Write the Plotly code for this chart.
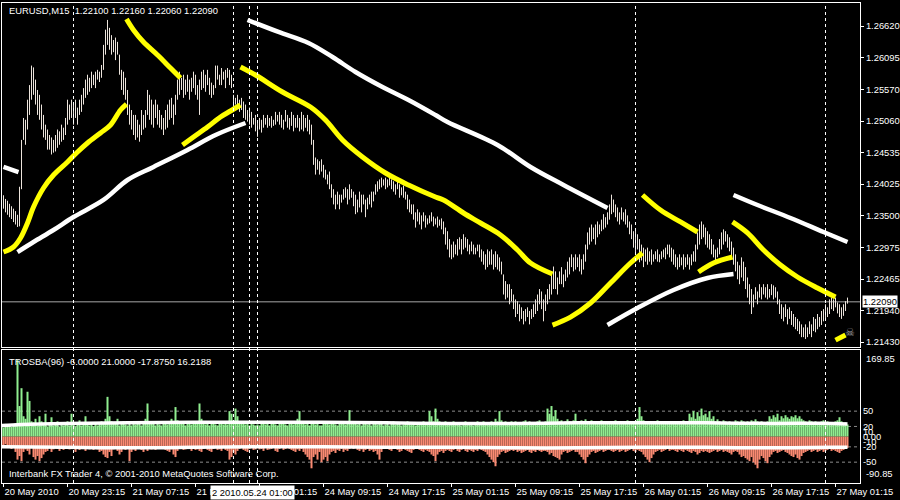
import plotly.graph_objects as go

# ---------------- data (prices in 1e-4 units, i.e. 12385 -> 1.2385) ----------------
HIGH = [12388,12384,12378,12375,12370,12366,12362,12358,12352,12398,
        12475,12511,12508,12541,12565,12597,12594,12574,12557,12549,
        12533,12516,12500,12492,12483,12479,12475,12483,12492,12489,
        12500,12495,12511,12541,12533,12541,12533,12541,12528,12541,
        12549,12560,12574,12582,12577,12587,12582,12587,12590,12587,
        12598,12631,12656,12672,12659,12647,12639,12643,12636,12615,
        12590,12587,12577,12557,12533,12524,12516,12516,12508,12500,
        12524,12516,12524,12557,12549,12541,12533,12541,12533,12524,
        12516,12511,12524,12533,12541,12544,12533,12549,12574,12587,
        12577,12582,12574,12582,12574,12577,12587,12582,12565,12574,
        12587,12590,12582,12590,12577,12569,12565,12597,12597,12582,
        12593,12587,12590,12593,12590,12582,12549,12544,12549,12541,
        12544,12538,12533,12524,12528,12521,12511,12516,12505,12511,
        12508,12516,12511,12516,12511,12514,12508,12521,12516,12521,
        12516,12508,12524,12516,12511,12521,12516,12511,12516,12511,
        12521,12516,12511,12516,12508,12500,12475,12446,12443,12440,
        12443,12434,12426,12418,12423,12402,12394,12385,12390,12385,
        12385,12394,12397,12394,12402,12394,12390,12385,12377,12390,
        12385,12385,12377,12380,12385,12390,12390,12402,12407,12410,
        12413,12410,12413,12410,12413,12410,12407,12402,12407,12402,
        12397,12400,12390,12385,12377,12369,12369,12356,12361,12356,
        12351,12356,12351,12346,12351,12356,12349,12346,12349,12344,
        12346,12341,12331,12325,12312,12303,12308,12303,12312,12315,
        12312,12320,12315,12312,12303,12308,12303,12298,12303,12303,
        12295,12292,12287,12295,12292,12295,12287,12292,12287,12282,
        12275,12254,12243,12238,12238,12230,12221,12213,12210,12205,
        12200,12194,12197,12200,12194,12197,12205,12213,12221,12230,
        12226,12213,12221,12230,12238,12254,12267,12259,12249,12259,
        12266,12254,12262,12275,12282,12287,12282,12287,12282,12287,
        12279,12287,12303,12323,12331,12336,12331,12336,12341,12336,
        12344,12353,12348,12356,12369,12385,12377,12369,12364,12356,
        12364,12356,12361,12351,12341,12336,12325,12328,12320,12312,
        12303,12298,12295,12298,12292,12295,12287,12292,12295,12287,
        12292,12295,12298,12303,12303,12298,12295,12287,12282,12287,
        12282,12287,12282,12287,12282,12287,12292,12303,12323,12336,
        12341,12336,12331,12325,12320,12312,12303,12295,12298,12312,
        12323,12328,12325,12320,12315,12308,12298,12287,12275,12269,
        12282,12275,12266,12249,12238,12230,12221,12233,12226,12238,
        12233,12238,12233,12238,12230,12238,12236,12233,12226,12213,
        12205,12200,12205,12197,12200,12194,12189,12184,12181,12177,
        12172,12167,12172,12167,12177,12172,12184,12181,12189,12184,
        12194,12197,12205,12200,12213,12216,12213,12216,12208,12205,
        12200,12205,12210,12216]

LOW = [12360,12362,12356,12352,12348,12345,12340,12336,12332,12333,
       12394,12475,12467,12492,12516,12541,12549,12533,12516,12508,
       12492,12479,12475,12459,12459,12451,12454,12456,12462,12467,
       12472,12475,12483,12500,12508,12511,12500,12511,12500,12516,
       12521,12533,12544,12549,12554,12560,12565,12560,12574,12570,
       12577,12590,12615,12631,12623,12615,12619,12606,12615,12582,
       12557,12549,12541,12516,12500,12492,12483,12475,12479,12472,
       12483,12492,12495,12516,12508,12500,12495,12511,12500,12495,
       12492,12483,12492,12495,12508,12511,12500,12516,12541,12549,
       12557,12544,12549,12554,12541,12554,12560,12549,12541,12516,
       12557,12560,12554,12565,12549,12544,12549,12560,12574,12565,
       12565,12574,12560,12577,12565,12560,12524,12533,12528,12521,
       12524,12511,12508,12505,12500,12495,12500,12489,12480,12492,
       12487,12495,12500,12495,12498,12495,12498,12500,12505,12500,
       12495,12492,12505,12495,12492,12498,12489,12495,12495,12489,
       12492,12489,12495,12489,12484,12467,12434,12418,12426,12418,
       12423,12413,12410,12402,12394,12380,12369,12361,12369,12361,
       12372,12377,12380,12369,12377,12380,12366,12353,12356,12364,
       12356,12369,12348,12361,12369,12364,12374,12385,12390,12394,
       12397,12400,12394,12397,12400,12394,12390,12385,12394,12380,
       12384,12380,12377,12361,12356,12353,12344,12331,12341,12336,
       12328,12341,12331,12336,12338,12341,12333,12336,12331,12334,
       12328,12320,12303,12295,12282,12279,12282,12287,12285,12295,
       12287,12295,12298,12292,12287,12292,12287,12287,12292,12282,
       12275,12270,12262,12266,12270,12270,12262,12266,12262,12259,
       12254,12221,12213,12216,12205,12210,12197,12184,12189,12177,
       12181,12172,12177,12184,12172,12181,12184,12189,12194,12205,
       12197,12177,12194,12205,12213,12221,12230,12230,12221,12238,
       12238,12233,12243,12249,12254,12266,12259,12262,12266,12259,
       12254,12262,12275,12295,12303,12308,12312,12303,12315,12320,
       12325,12328,12331,12336,12344,12353,12356,12348,12341,12336,
       12344,12341,12336,12331,12320,12312,12298,12287,12295,12274,
       12277,12266,12275,12270,12275,12270,12275,12279,12275,12274,
       12279,12282,12279,12287,12282,12275,12270,12266,12262,12266,
       12269,12262,12266,12270,12262,12269,12275,12275,12295,12303,
       12312,12315,12303,12298,12295,12287,12282,12275,12282,12287,
       12295,12303,12308,12298,12292,12282,12270,12259,12246,12238,
       12249,12243,12230,12216,12205,12189,12200,12213,12205,12216,
       12213,12221,12216,12213,12216,12220,12213,12216,12205,12189,
       12181,12177,12184,12172,12181,12171,12168,12164,12161,12156,
       12151,12151,12148,12151,12156,12151,12161,12159,12164,12168,
       12171,12177,12181,12184,12189,12197,12194,12200,12190,12184,
       12181,12186,12194,12206]

BUY = [22,18,25,20,24,19,22,26,150,60,95,40,35,88,70,30,
       28,35,22,40,30,25,45,20,24,38,22,26,30,20,24,22,
       24,30,22,45,28,20,25,32,22,26,40,24,22,28,20,25,
       22,28,30,25,35,78,40,30,25,28,35,22,26,30,24,22,
       25,22,30,24,28,26,22,30,35,65,28,25,30,22,26,24,
       22,26,30,24,28,35,30,58,32,25,30,28,22,26,30,24,
       26,30,28,65,35,28,24,30,22,26,28,24,22,26,30,24,
       28,24,50,45,30,55,40,28,26,30,24,28,22,26,24,22,
       24,22,28,30,24,26,22,30,28,24,22,26,30,28,24,22,
       26,28,24,30,35,50,30,28,24,26,22,30,28,24,26,22,
       22,26,30,28,24,26,30,24,22,28,30,26,24,28,52,30,
       26,30,24,28,22,26,30,24,28,22,26,30,24,28,26,22,
       24,28,22,26,30,24,28,26,22,24,28,30,26,24,28,22,
       26,24,28,30,24,26,50,40,30,55,35,30,28,26,30,24,
       24,28,30,26,24,28,22,26,30,28,24,26,22,28,30,24,
       26,30,28,24,26,30,28,35,30,50,32,28,30,26,28,30,
       28,30,26,24,28,30,32,28,30,26,28,24,30,32,28,26,
       30,55,45,60,40,52,35,30,32,28,30,34,30,28,32,45,
       30,28,32,30,34,30,28,32,30,28,26,30,32,28,30,26,
       28,30,26,32,30,28,30,26,28,32,30,28,26,30,35,58,
       40,32,30,28,30,26,28,30,32,28,30,26,28,30,26,28,
       30,28,26,30,28,32,30,28,45,38,50,35,48,40,55,42,
       45,38,50,35,40,30,34,30,28,32,30,28,30,26,28,32,
       30,28,32,30,28,30,26,32,30,34,30,28,30,26,28,30,
       40,35,42,38,45,32,40,36,42,38,35,40,38,42,36,40,
       35,32,30,28,32,30,28,30,26,28,30,32,28,30,26,28,
       28,30,32,38,30,26,28,24]

SELL = [18,20,15,22,19,24,20,30,45,38,48,30,25,28,35,22,
        40,45,38,48,42,35,30,28,22,30,25,20,24,28,22,26,
        22,18,25,20,24,30,22,26,20,24,28,22,25,20,26,22,
        25,30,28,35,40,42,30,38,25,22,28,35,30,24,26,22,
        48,30,25,28,24,22,26,30,24,28,22,25,20,26,24,22,
        24,22,26,28,30,25,35,40,28,24,22,26,25,20,24,28,
        22,26,25,28,30,24,22,26,28,30,24,22,26,25,28,22,
        26,28,45,40,30,35,28,24,22,26,28,30,24,22,26,25,
        22,25,24,28,22,26,25,24,22,28,30,24,22,26,24,22,
        24,26,28,30,25,28,24,30,35,40,45,62,40,35,45,30,
        50,45,40,48,35,30,28,32,26,28,24,30,26,28,24,22,
        24,22,26,28,25,30,26,24,28,26,30,28,35,45,30,24,
        22,24,26,28,24,22,26,30,28,24,26,28,30,32,26,24,
        24,26,28,30,26,28,30,35,38,48,35,30,28,32,28,26,
        28,30,26,24,28,30,26,24,28,30,26,28,30,26,28,24,
        26,28,30,35,40,45,50,58,40,35,30,28,32,30,28,26,
        28,26,30,28,32,30,28,26,30,32,28,30,26,28,30,28,
        28,30,35,32,38,40,42,45,35,30,28,32,30,28,26,30,
        30,35,40,45,52,40,35,30,28,32,30,28,26,30,28,26,
        26,28,30,28,26,30,28,26,30,28,26,24,28,30,26,28,
        30,35,40,45,50,42,35,30,28,26,30,28,26,24,28,26,
        26,28,30,26,28,30,26,28,30,32,28,30,35,32,28,30,
        28,30,32,30,28,26,30,28,26,30,28,30,32,35,30,28,
        30,35,40,38,42,45,48,40,50,55,62,45,38,42,48,52,
        40,35,30,28,32,30,28,26,30,32,35,38,40,35,42,45,
        38,32,30,28,26,30,28,26,30,28,26,30,28,26,24,28,
        26,28,30,32,28,26,24,22]

# smoothed indicator lines (bar index, value)
UPPER_LINE = [(0, 22), (10, 24), (32, 26), (64, 27), (96, 28), (128, 28), (160, 28), (192, 27),
              (224, 26), (256, 26), (288, 27), (320, 27), (352, 27), (384, 26), (416, 26), (423, 25)]
LOWER_LINE = [(0, -20), (32, -21), (64, -22), (96, -21), (128, -20), (160, -20), (192, -21),
              (224, -21), (256, -22), (288, -22), (320, -21), (352, -21), (384, -22), (416, -21), (423, -21)]
LEVELS = [50, 20, -20, -50]

# hand-drawn trend strokes: (bar index, price in 1e-4)
YELLOW_STROKES = [
    [(1, 12290.8), (6, 12299.1), (9.5, 12313.8), (13, 12338.5), (16, 12364.7), (21, 12396.0), (26, 12417.3),
     (33, 12438.7), (38, 12455.1), (43, 12469.9), (49.5, 12486.3), (54.5, 12499.4), (59.5, 12524.1), (62.5, 12533.9)],
    [(62.5, 12673.5), (66, 12655.5), (71, 12635.7), (78, 12614.4), (84.5, 12593.0), (89.5, 12576.6)],
    [(90.5, 12466.6), (96, 12479.7), (103, 12496.1), (109.5, 12512.6), (114.5, 12522.4), (119.5, 12532.3)],
    [(119.5, 12594.7), (127, 12581.5), (140.5, 12553.6), (154.5, 12529.0), (162, 12507.6), (170.5, 12474.8),
     (180.5, 12446.9), (192, 12420.6), (203.5, 12400.9), (217, 12381.2), (221, 12376.3), (231, 12354.9),
     (239.5, 12338.5), (249.5, 12318.8), (258, 12294.1), (264.5, 12272.8), (275.5, 12254.7)],
    [(275.5, 12170.9), (284.5, 12184.0), (294.5, 12207.1), (304.5, 12239.9), (314.5, 12272.8), (320.5, 12289.2)],
    [(320.5, 12384.5), (329.5, 12359.8), (339.5, 12340.2), (348, 12323.7)],
    [(348.5, 12258.0), (356, 12272.8), (365.5, 12282.6)],
    [(365.5, 12340.2), (373, 12322.1), (381, 12294.1), (389.5, 12269.5), (398, 12249.8), (408, 12231.7), (417, 12216.9)],
    [(417, 12146.1), (422, 12154.5)],
]
WHITE_STROKES = [
    [(1, 12430.5), (8.5, 12422.2)],
    [(8, 12290.8), (16, 12307.3), (26, 12327.0), (36, 12348.3), (51, 12376.3), (63, 12409.1),
     (76, 12430.5), (93, 12458.4), (107, 12483.0), (122, 12502.7)],
    [(123, 12671.9), (138.5, 12652.2), (153.5, 12634.1), (165.5, 12611.1), (177, 12586.5), (190.5, 12561.8),
     (203.5, 12540.5), (217, 12515.8), (223, 12504.3), (248, 12466.6), (264.5, 12430.5), (281, 12400.9), (303, 12363.1)],
    [(303, 12170.9), (318, 12198.8), (336, 12228.4), (353, 12248.1), (366, 12254.7)],
    [(366, 12384.5), (378, 12368.0), (394.5, 12346.7), (411, 12323.7), (423, 12307.3)],
]
VLINES = [36, 116, 124, 128, 317, 412]

PRICE_TICKS = [1.26620, 1.26095, 1.25570, 1.25060, 1.24535, 1.24025, 1.23500, 1.22975, 1.22465, 1.21940, 1.21430]
BID = 1.22090
TIME_TICK_BARS = [1, 33, 65, 97, 129, 161, 193, 225, 257, 289, 321, 353, 385, 417]
TIME_TICK_LABELS = ["20 May 2010", "20 May 23:15", "21 May 07:15", "21 May 15:15", "24 May 01:15",
                    "24 May 09:15", "24 May 17:15", "25 May 01:15", "25 May 09:15", "25 May 17:15",
                    "26 May 01:15", "26 May 09:15", "26 May 17:15", "27 May 01:15"]
IND_TICKS = [50, 20, 10, 0, -10, -20, -50]
IND_LABELS = ["50", "20", "10", "0.00", "-10", "-20", "-50"]
IND_MAX, IND_MIN = 169.85, -90.85

# ---------------- figure ----------------
FONT = "Liberation Sans, Arial, sans-serif"
FS = 9.4
fig = go.Figure()


def segments(xs, lows, highs):
    sx, sy = [], []
    for x, lo, hi in zip(xs, lows, highs):
        sx += [x, x, None]
        sy += [lo, hi, None]
    return sx, sy


bars = list(range(len(HIGH)))
bx, by = segments(bars, [v / 1e4 for v in LOW], [v / 1e4 for v in HIGH])
fig.add_trace(go.Scatter(x=bx, y=by, mode="lines", line=dict(color="#ece4dc", width=1),
                         xaxis="x", yaxis="y", hoverinfo="skip", showlegend=False))

for s in WHITE_STROKES:
    fig.add_trace(go.Scatter(x=[p[0] for p in s], y=[p[1] / 1e4 for p in s], mode="lines",
                             line=dict(color="white", width=4.5, shape="spline"),
                             xaxis="x", yaxis="y", showlegend=False, hoverinfo="skip"))
for s in YELLOW_STROKES:
    fig.add_trace(go.Scatter(x=[p[0] for p in s], y=[p[1] / 1e4 for p in s], mode="lines",
                             line=dict(color="#ffff00", width=5, shape="spline"),
                             xaxis="x", yaxis="y", showlegend=False, hoverinfo="skip"))

idx = list(range(len(BUY)))
gx, gy = segments(idx, [0] * len(BUY), BUY)
fig.add_trace(go.Scatter(x=gx, y=gy, mode="lines", line=dict(color="#90ee90", width=2),
                         xaxis="x2", yaxis="y2", showlegend=False, hoverinfo="skip"))
rx, ry = segments(idx, [0] * len(SELL), [-v for v in SELL])
fig.add_trace(go.Scatter(x=rx, y=ry, mode="lines", line=dict(color="#fa8a72", width=2),
                         xaxis="x2", yaxis="y2", showlegend=False, hoverinfo="skip"))
for ln in (UPPER_LINE, LOWER_LINE):
    fig.add_trace(go.Scatter(x=[p[0] for p in ln], y=[p[1] for p in ln], mode="lines",
                             line=dict(color="white", width=3.5, shape="spline"),
                             xaxis="x2", yaxis="y2", showlegend=False, hoverinfo="skip"))

shapes = []
for v in VLINES:
    shapes.append(dict(type="line", xref="x", yref="paper", x0=v, x1=v, y0=0, y1=1,
                       line=dict(color="white", width=1, dash="3px,3px"), layer="above"))
shapes.append(dict(type="line", xref="paper", yref="y", x0=0, x1=1, y0=BID, y1=BID,
                   line=dict(color="#a8a8a8", width=1), layer="below"))
for lv in LEVELS:
    shapes.append(dict(type="line", xref="paper", yref="y2", x0=0, x1=1, y0=lv, y1=lv,
                       line=dict(color="#8c8c8c", width=1, dash="3px,3px"), layer="below"))

ann = [
    dict(text="EURUSD,M15  1.22100 1.22160 1.22060 1.22090", xref="paper", yref="paper",
         x=0.0058, y=0.9854, xanchor="left", yanchor="middle", showarrow=False,
         font=dict(color="white", size=FS, family=FONT)),
    dict(text="TROSBA(96) -6.0000 21.0000 -17.8750 16.2188", xref="paper", yref="paper",
         x=0.0058, y=0.254, xanchor="left", yanchor="middle", showarrow=False,
         font=dict(color="white", size=FS, family=FONT)),
    dict(text="Interbank FX Trader 4, © 2001-2010 MetaQuotes Software Corp.", xref="paper", yref="paper",
         x=0.0058, y=0.0208, xanchor="left", yanchor="middle", showarrow=False,
         font=dict(color="white", size=FS, family=FONT)),
    dict(text="1.22090", xref="paper", yref="y", x=1, y=BID, xanchor="left", xshift=2, yanchor="middle",
         showarrow=False, bgcolor="white", borderpad=0, font=dict(color="black", size=FS, family=FONT)),
    dict(text=f"{IND_MAX:.2f}", xref="paper", yref="y2", x=1, y=IND_MAX, xanchor="left", xshift=4,
         yanchor="top", yshift=-1, showarrow=False, font=dict(color="white", size=FS, family=FONT)),
    dict(text=f"{IND_MIN:.2f}", xref="paper", yref="y2", x=1, y=IND_MIN, xanchor="left", xshift=4,
         yanchor="bottom", yshift=2, showarrow=False, font=dict(color="white", size=FS, family=FONT)),
    dict(text="2 2010.05.24 01:00", xref="x", yref="paper", x=104, y=-0.0188, xanchor="left",
         yanchor="middle", showarrow=False, bgcolor="white", borderpad=1,
         font=dict(color="black", size=FS, family=FONT)),
    dict(text="☠", xref="x", yref="y", x=424, y=1.2158, showarrow=False,
         font=dict(color="#a0a0a0", size=11, family="DejaVu Sans")),
]

axis_common = dict(showgrid=False, zeroline=False, showline=True, mirror=True, linecolor="white",
                   linewidth=1, automargin=False, tickfont=dict(color="white", size=FS, family=FONT))
XR = [0.25, 429.25]
fig.update_layout(
    width=900, height=500, paper_bgcolor="black", plot_bgcolor="black",
    margin=dict(l=2, r=40, t=3, b=17),
    xaxis=dict(domain=[0, 1], anchor="y", range=XR, showticklabels=False, ticks="", **axis_common),
    xaxis2=dict(domain=[0, 1], anchor="y2", range=XR, matches="x", tickmode="array",
                tickvals=TIME_TICK_BARS, ticktext=TIME_TICK_LABELS, ticks="outside", ticklen=3,
                tickcolor="white", tickangle=0, ticklabelposition="outside right", **axis_common),
    yaxis=dict(domain=[0.2833, 1], anchor="x", side="right", range=[1.21348, 1.26998], tickmode="array",
               tickvals=PRICE_TICKS, ticktext=[f"{v:.5f}" for v in PRICE_TICKS], ticks="outside",
               ticklen=3, tickcolor="white", **axis_common),
    yaxis2=dict(domain=[0, 0.2771], anchor="x2", side="right", range=[IND_MIN, IND_MAX], tickmode="array",
                tickvals=IND_TICKS, ticktext=IND_LABELS, ticks="", **axis_common),
    shapes=shapes, annotations=ann,
)

fig.write_html("out.html", config={"displayModeBar": False},
               post_script="document.body.style.margin='0';document.body.style.overflow='hidden';"
                           "document.documentElement.style.background='black';")
